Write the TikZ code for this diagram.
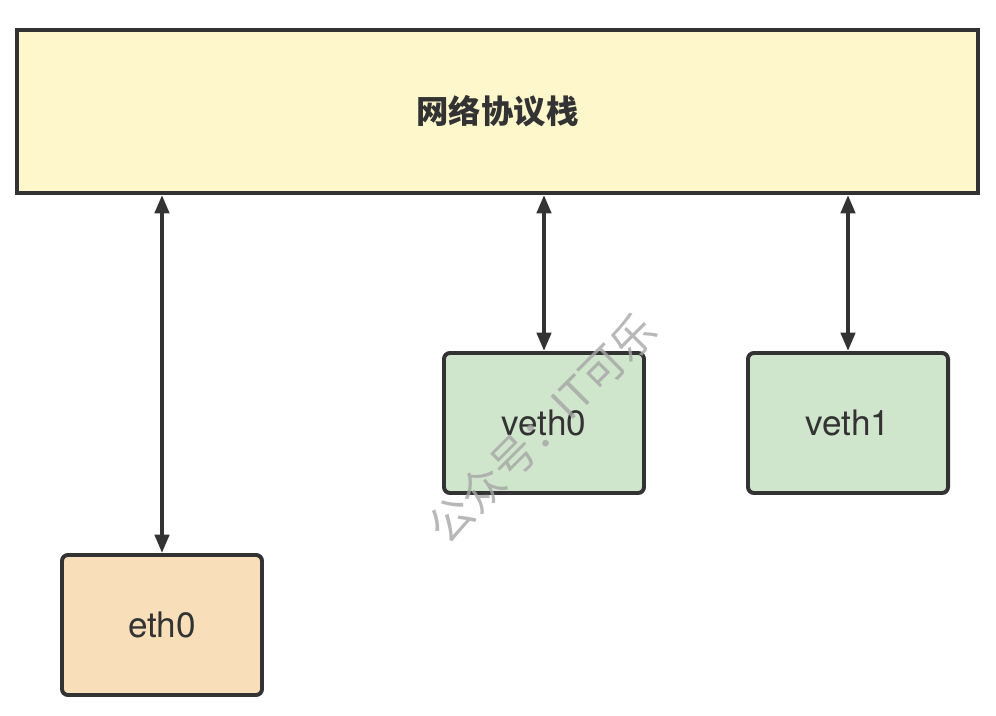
\documentclass[tikz,border=0pt]{standalone}
\usepackage{fontspec}
\setmainfont{TeX Gyre Heros}
\newfontfamily\cjk{Noto Sans CJK SC}
\usepackage{tikz}
\usetikzlibrary{arrows.meta, positioning}
\usepackage{xcolor}
\definecolor{StackYellow}{HTML}{FFF7CC}
\definecolor{VethGreen}{HTML}{D0E6CC}
\definecolor{EthOrange}{HTML}{F8DFB9}
\definecolor{EdgeGray}{HTML}{333333}

\begin{document}
\begin{tikzpicture}[x=0.025cm, y=-0.025cm,
    dev/.style={draw=EdgeGray, line width=2.8pt, rounded corners=0.15cm,
                minimum width=5cm, minimum height=3.5cm, inner sep=0pt,
                font=\fontsize{25}{30}\selectfont, text=EdgeGray},
    link/.style={{Triangle[length=13pt,width=10pt]}-{Triangle[length=13pt,width=10pt]},
                 EdgeGray, line width=2.8pt}]
      \useasboundingbox (0,0) rectangle (996,716);
      \node[draw=EdgeGray, fill=StackYellow, line width=2.8pt, minimum width=24.03cm,
            minimum height=4.075cm, font=\cjk\bfseries\fontsize{23}{27}\selectfont,
            text=EdgeGray] (stack) at (497.5,111.5) {网络协议栈};
      \node[dev, fill=VethGreen] (veth0) at (544,423) {veth0};
      \node[dev, fill=VethGreen] (veth1) at (848,423) {veth1};
      \node[dev, fill=EthOrange] (eth0) at (162,625) {eth0};
      % links to the stack
      \draw[link] (stack.south -| eth0) -- (eth0.north);
      \draw[link] (stack.south -| veth0) -- (veth0.north);
      \draw[link] (stack.south -| veth1) -- (veth1.north);
      % watermark
      \node[rotate=45, text=black!35, opacity=0.8,
            font=\cjk\fontsize{31}{35}\selectfont] (mark) at (542,428) {公众号：IT可乐};
\end{tikzpicture}
\end{document}
